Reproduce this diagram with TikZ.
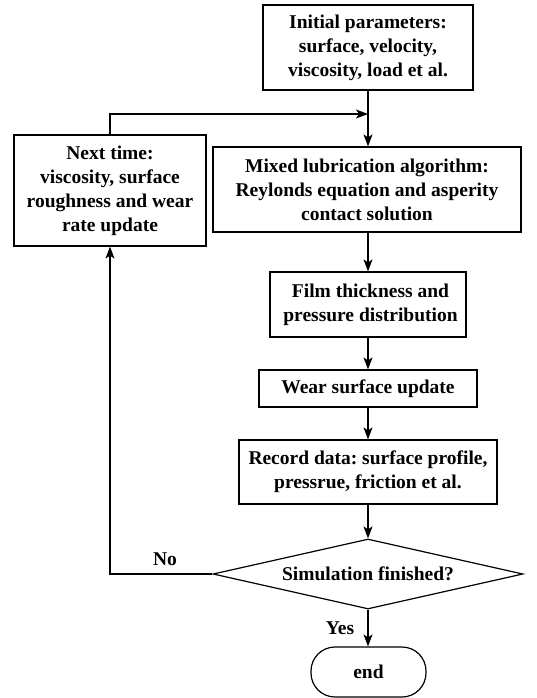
\documentclass[tikz,border=0pt]{standalone}
\usepackage{fontspec}
\setmainfont{Liberation Serif}
\usetikzlibrary{arrows.meta,shapes.geometric}
\frenchspacing
\begin{document}
\begin{tikzpicture}[x=1pt,y=-1pt,
  every node/.style={font=\fontsize{19.5}{24}\selectfont\bfseries, inner sep=0pt, align=center},
  box/.style={draw, line width=1.2pt, rectangle},
  flow/.style={line width=1.2pt, -{Stealth[length=12pt,width=9pt,inset=3pt]}},
  plain/.style={line width=1.2pt}]
\useasboundingbox (0,0) rectangle (536,698);
\node[box, minimum width=210pt, minimum height=85pt] (init) at (368,47.5)
  {Initial parameters:\\surface, velocity,\\viscosity, load et al.};
\node[box, minimum width=192pt, minimum height=111pt] (next) at (110,190.5)
  {Next time:\\viscosity, surface\\roughness and wear\\rate update};
\node[box, minimum width=308pt, minimum height=85pt] (mixed) at (367,189.5)
  {Mixed lubrication algorithm:\\Reylonds equation and asperity\\contact solution};
\node[box, minimum width=196pt, minimum height=65pt] (film) at (368,304.5)
  {\hspace*{5pt}Film thickness and\\\hspace*{5pt}pressure distribution};
\node[box, minimum width=218pt, minimum height=37pt] (wear) at (368,388.5)
  {Wear surface update};
\node[box, minimum width=258pt, minimum height=64pt] (record) at (368,472)
  {Record data: surface profile,\\pressrue, friction et al.};
\node[draw, line width=1.2pt, diamond, aspect=4.4, minimum width=310pt, minimum height=70pt] (dec) at (368,574)
  {Simulation finished?};
\node[draw, line width=1.2pt, rectangle, rounded corners=24pt, minimum width=115pt, minimum height=50pt] (end) at (368.5,672)
  {end};
\coordinate (join) at (368,114);
\coordinate (nojoin) at (110,574);
\node (nolab) at (165,559) {No};
\node (yeslab) at (340,628) {Yes};
\draw[plain] (init.south) -- (join);
\draw[flow] (join) -- (mixed.north -| join);
\draw[flow] (next.north) |- (join);
\draw[flow] (mixed.south -| film.north) -- (film.north);
\draw[flow] (film.south) -- (wear.north);
\draw[flow] (wear.south) -- (record.north);
\draw[flow] (record.south) -- (dec.north);
\draw[flow] (dec.south) -- (dec.south |- end.north);
\draw[flow] (dec.west) -- (nojoin) -- (next.south);
\end{tikzpicture}
\end{document}
